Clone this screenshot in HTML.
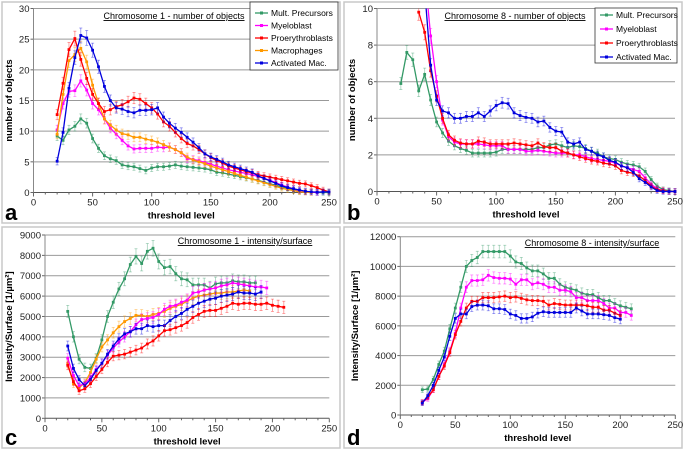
<!DOCTYPE html>
<html><head><meta charset="utf-8"><style>
html,body{margin:0;padding:0;background:#fff;}
svg{display:block;font-family:"Liberation Sans",Arial,sans-serif;}
</style></head><body>
<svg id="s" width="685" height="450" viewBox="0 0 685 450" xmlns="http://www.w3.org/2000/svg"></svg>
<script>
const S=document.getElementById('s');let h='';
const C={g:'#339966',m:'#ff00ff',r:'#ff0000',o:'#ff9900',b:'#0000dd'};
function ser(start,arr){return arr.map((v,i)=>[start+5*i,v]);}
function panel(p){
 const {x0,x1,y0,y1,ymax,step,fmt}=p;
 const X=v=>x0+(x1-x0)*v/p.xmax, Y=v=>y0-(y0-y1)*v/ymax;
 h+=`<rect x="${p.bx}" y="${p.by}" width="${p.bw}" height="${p.bh}" fill="none" stroke="#c8c8c8" stroke-width="1.5"/>`;
 for(let v=0;v<=ymax;v+=step){const y=Y(v);
  if(v>0)h+=`<line x1="${x0}" y1="${y}" x2="${x1}" y2="${y}" stroke="#999" stroke-width="1"/>`;
  h+=`<line x1="${x0-3}" y1="${y}" x2="${x0}" y2="${y}" stroke="#666"/>`;
  h+=`<text x="${x0-4}" y="${y+3.5}" font-size="9.5" text-anchor="end" fill="#222">${v}</text>`;}
 h+=`<line x1="${x0}" y1="${y1}" x2="${x0}" y2="${y0}" stroke="#888"/>`;
 h+=`<line x1="${x0}" y1="${y0}" x2="${x1}" y2="${y0}" stroke="#555"/>`;
 for(let v=0;v<=250;v+=10){const x=X(v);h+=`<line x1="${x}" y1="${y0}" x2="${x}" y2="${y0+(v%50?2:4)}" stroke="#666"/>`;}
 for(let v=0;v<=250;v+=50){h+=`<text x="${X(v)}" y="${y0+13}" font-size="9.5" text-anchor="middle" fill="#222">${v}</text>`;}
 h+=`<text x="${(x0+x1)/2}" y="${y0+26}" font-size="9.5" font-weight="bold" text-anchor="middle">threshold level</text>`;
 h+=`<text transform="translate(${p.ylx},${(y0+y1)/2}) rotate(-90)" font-size="9.5" font-weight="bold" text-anchor="middle">${p.yl}</text>`;
 h+=`<text x="${p.bx+3}" y="${p.by+p.bh-3}" font-size="22" font-weight="bold">${p.letter}</text>`;
 h+=`<text x="${p.tx}" y="${p.ty}" font-size="9" text-anchor="middle" text-decoration="underline">${p.title}</text>`;
 h+=`<clipPath id="c${p.letter}"><rect x="${x0-4}" y="${y1}" width="${x1-x0+8}" height="${y0-y1+4}"/></clipPath><g clip-path="url(#c${p.letter})">`;
 for(const s of p.series){const c=C[s.c];
  const pts=s.d.map(([a,b])=>[X(a),Y(b)]);
  s.d.forEach(([a,b])=>{const e=p.err*(b/ymax*0.6+0.3);const x=X(a);
   h+=`<line x1="${x}" y1="${Y(b+e)}" x2="${x}" y2="${Y(b-e)}" stroke="${c}" stroke-opacity="0.45" stroke-width="0.8"/>`;
   h+=`<line x1="${x-1.5}" y1="${Y(b+e)}" x2="${x+1.5}" y2="${Y(b+e)}" stroke="${c}" stroke-opacity="0.45" stroke-width="0.8"/>`;
   h+=`<line x1="${x-1.5}" y1="${Y(b-e)}" x2="${x+1.5}" y2="${Y(b-e)}" stroke="${c}" stroke-opacity="0.45" stroke-width="0.8"/>`;});
  h+=`<polyline points="${pts.map(q=>q.join(',')).join(' ')}" fill="none" stroke="${c}" stroke-width="1.3"/>`;
  pts.forEach(q=>{h+=`<rect x="${q[0]-1.4}" y="${q[1]-1.4}" width="2.8" height="2.8" fill="${c}"/>`;});}
 h+='</g>';
 if(p.leg){const L=p.leg;h+=`<rect x="${L.x}" y="${L.y}" width="${L.w}" height="${L.h}" fill="#fff" stroke="#333" stroke-width="0.8"/>`;
  L.items.forEach((it,i)=>{const y=L.y+L.y0+i*L.dy;const c=C[it[0]];
   h+=`<line x1="${L.x+5}" y1="${y}" x2="${L.x+18}" y2="${y}" stroke="${c}" stroke-width="1.3"/><rect x="${L.x+10}" y="${y-1.5}" width="3" height="3" fill="${c}"/>`;
   h+=`<text x="${L.x+21}" y="${y+3}" font-size="8.5">${it[1]}</text>`;});}
}
const A={
 g:ser(20,[9.2,8.5,10.2,10.8,12,11.3,8.8,7.2,6,5.5,5.2,4.5,4.3,4.2,3.9,3.6,4,4.2,4.2,4.3,4.5,4.3,4.2,4.1,4,3.9,3.7,3.3,3.2,3,2.8,2.6,2.4,2.2,2,1.7,1.4,1.2,0.9,0.7,0.4,0.2,0.1,0.05,0,0,0]),
 m:ser(20,[10.2,14.5,16.5,16.6,18.2,16.7,14.5,13.5,12,10.5,9.5,8.5,7.6,7.1,7.2,7.2,7.2,7.4,7.3,7.4,7,6.5,5.5,5.4,5.2,4.9,4.6,4.3,4,3.7,3.5,3.3,3.1,2.9,2.6,2.3,2,1.6,1.2,0.9,0.6,0.3,0.1,0.05,0]),
 r:ser(20,[12.7,17.8,23.3,25.1,21.7,18.6,16,14.5,13.2,13.5,14,14.3,14.8,15.4,15.2,14.5,13.8,12.8,11.5,10.8,9.8,8.8,8,7.6,7,6.3,5.7,5.2,4.8,4.3,4,3.7,3.4,3.2,2.9,2.7,2.5,2.3,2.1,1.9,1.7,1.5,1.4,1.1,0.8,0.4,0.1]),
 o:ser(20,[9.5,16,21.5,22.5,23.5,21.3,17.5,14.5,12,11,10.2,9.6,9.4,9,9,8.7,8.5,8.2,7.8,7.4,7,6.5,5.8,5.3,5,4.7,4.3,4,3.7,3.4,3.1,2.8,2.5,2.2,1.9,1.6,1.3,1,0.7,0.5,0.3,0.1,0.05,0]),
 b:ser(20,[5.1,9.8,17,22,25.6,25.2,23.2,20.5,17.3,15,13.8,13.6,13.2,13,13.4,13.4,13.5,13.8,12.3,11.3,10.5,9.8,9,8.2,7.3,6.3,5.8,5.4,5,4.5,4.2,3.9,3.6,3.3,2.7,2.3,1.9,1.5,1.1,0.8,0.6,0.4,0.2,0.1,0.05,0.1,0.1])};
panel({letter:'a',bx:2,by:2,bw:338,bh:221,x0:33.5,x1:329,y0:192.5,y1:8.5,xmax:250,ymax:30,step:5,err:1.5,ylx:12,yl:'number of objects',tx:174,ty:19,title:'Chromosome 1 - number of objects',
 series:[{c:'g',d:A.g},{c:'m',d:A.m},{c:'o',d:A.o},{c:'r',d:A.r},{c:'b',d:A.b}],
 leg:{x:250,y:2,w:88,h:68,y0:11,dy:12.5,items:[['g','Mult. Precursors'],['m','Myeloblast'],['r','Proerythroblasts'],['o','Macrophages'],['b','Activated Mac.']]}});
const B={
 g:ser(20,[5.9,7.6,7.2,5.5,6.4,5,3.8,3.2,2.75,2.5,2.35,2.25,2.1,2.1,2.1,2.1,2.15,2.3,2.3,2.3,2.3,2.3,2.3,2.4,2.4,2.55,2.6,2.5,2.4,2.5,2.45,2.35,2.2,2.1,1.9,1.8,1.75,1.6,1.5,1.45,1.35,1.1,0.65,0.3,0.1,0.05,0]),
 m:ser(35,[14,12,8.5,6,3.9,3,2.7,2.6,2.6,2.6,2.6,2.55,2.5,2.5,2.5,2.3,2.3,2.3,2.2,2.2,2.25,2.2,2.15,2.1,2.1,2.1,2,2,1.9,1.8,1.75,1.7,1.65,1.55,1.4,1.3,1.2,1.1,0.75,0.4,0.15,0.05,0,0]),
 r:ser(35,[9.8,8.7,6.6,5.2,4,3.1,2.8,2.65,2.6,2.6,2.75,2.7,2.6,2.6,2.6,2.6,2.65,2.6,2.55,2.5,2.65,2.45,2.4,2.4,2.2,2.1,2,1.9,1.8,1.7,1.65,1.55,1.5,1.4,1.15,1.05,1,0.85,0.6,0.3,0.1,0.05,0,0]),
 b:ser(35,[14,11,6.9,5,4.4,4.3,4,4,4.1,4.1,4.3,4.1,4.4,4.7,4.85,4.8,4.3,4.15,4.05,4,3.8,3.85,3.5,3.3,3.25,2.7,2.6,2.7,2.3,2.2,2,1.9,1.7,1.6,1.4,1.3,1.05,0.7,0.5,0.25,0.05,0,0,0])};
panel({letter:'b',bx:344,by:2,bw:338,bh:221,x0:377,x1:675,y0:191.5,y1:8.5,xmax:250,ymax:10,step:2,err:0.5,ylx:355,yl:'number of objects',tx:515,ty:19,title:'Chromosome 8 - number of objects',
 series:[{c:'g',d:B.g},{c:'m',d:B.m},{c:'r',d:B.r},{c:'b',d:B.b}],
 leg:{x:595,y:8,w:82,h:55,y0:7,dy:14,items:[['g','Mult. Precursors'],['m','Myeloblast'],['r','Proerythroblasts'],['b','Activated Mac.']]}});
const Cc={
 g:ser(20,[5250,4000,2900,2500,2450,2950,3850,5000,5700,6350,6850,7550,7950,7600,8200,8350,7700,7400,7450,7100,6850,6800,6550,6550,6550,6400,6600,6650,6650,6750,6700,6700,6650,6650]),
 m:ser(20,[2950,2100,1600,1700,2000,2400,2700,3100,3450,3750,4000,4250,4600,4850,4900,4950,5100,5350,5500,5550,5700,5800,6150,6200,6300,6350,6400,6500,6550,6650,6600,6550,6500,6450,6450,6400]),
 o:ser(20,[2700,1700,1500,1750,2250,2900,3500,3850,4200,4500,4750,4900,5050,5050,5000,5100,5150,5250,5400,5500,5600,5750,5900,6000,6050,6100,6150,6150,6200,6200,6250,6300,6250]),
 b:ser(20,[3550,2450,1900,1600,1900,2350,2700,3150,3550,3900,4150,4250,4400,4400,4550,4500,4550,4550,4800,5000,5150,5350,5500,5650,5750,5850,5900,6000,6050,6100,6200,6150,6150,6100,6200]),
 r:ser(20,[2600,1800,1350,1450,1700,2050,2400,2750,3050,3100,3150,3250,3350,3450,3650,3800,4050,4300,4350,4450,4550,4700,4950,5100,5250,5300,5300,5400,5500,5650,5600,5650,5650,5600,5600,5650,5550,5500,5450])};
panel({letter:'c',bx:2,by:227,bw:338,bh:221,x0:45,x1:329.3,y0:418.3,y1:235,xmax:250,ymax:9000,step:1000,err:450,ylx:12,yl:'Intensity/Surface [1/µm²]',tx:245,ty:244,title:'Chromosome 1 - intensity/surface',
 series:[{c:'g',d:Cc.g},{c:'o',d:Cc.o},{c:'m',d:Cc.m},{c:'b',d:Cc.b},{c:'r',d:Cc.r}]});
const D={
 g:ser(20,[1700,1750,2400,3400,4300,5800,7200,8600,10000,10400,10600,11000,11000,11000,11000,11000,10700,10300,10200,9900,9700,9700,9500,9200,9200,8800,8600,8500,8400,8200,8100,8100,7900,7700,7700,7500,7350,7250,7150]),
 m:ser(20,[850,1100,1700,2600,3400,4300,5500,7200,8600,9050,9050,9100,9400,9250,9200,9200,9150,8800,9100,9100,8800,8900,8800,8600,8600,8400,8400,8300,7900,7900,7700,7700,7700,7500,7200,7200,6900,6900,6700]),
 r:ser(20,[850,1200,1700,2600,3300,4200,5400,6300,7200,7650,7650,7900,7900,7900,7950,8000,7900,7950,7850,7750,7700,7700,7650,7400,7500,7450,7400,7400,7400,7400,7350,7250,7250,7050,7050,6850,6700]),
 b:ser(20,[800,1300,2000,3000,3900,5300,6500,6800,6800,7300,7400,7400,7350,7150,7150,7100,6800,6700,6500,6500,6600,6850,6950,6900,6900,6900,6900,6900,7200,7000,6800,6800,6800,6750,6700,6550,6450])};
panel({letter:'d',bx:344,by:227,bw:338,bh:221,x0:400.3,x1:675.3,y0:415,y1:236.7,xmax:250,ymax:12000,step:2000,err:500,ylx:358,yl:'Intensity/Surface [1/µm²]',tx:592,ty:246,title:'Chromosome 8 - intensity/surface',
 series:[{c:'g',d:D.g},{c:'m',d:D.m},{c:'r',d:D.r},{c:'b',d:D.b}]});
S.innerHTML=h;
</script>
</body></html>
